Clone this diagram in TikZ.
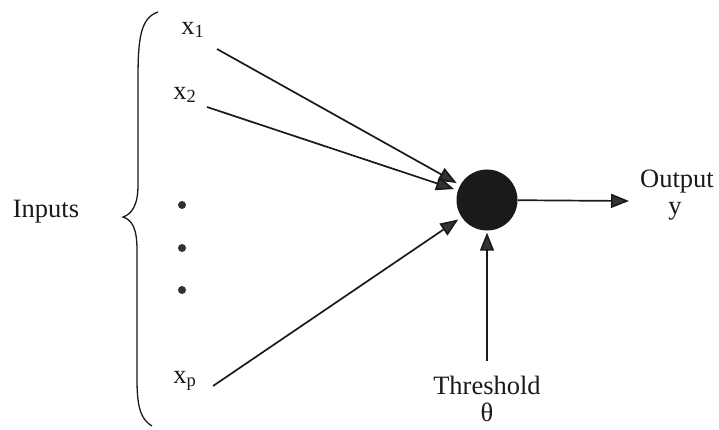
\documentclass[tikz,border=0pt]{standalone}
\usepackage{fontspec}
\setmainfont{Liberation Serif}
\usetikzlibrary{arrows.meta}
\definecolor{ink}{HTML}{1A1A1A}
\definecolor{tipgray}{HTML}{333333}
\tikzset{
  lbl/.style={font=\fontsize{26.5}{30}\selectfont, text=ink, inner sep=0pt},
  conn/.style={draw=ink, line width=1.7pt, -{Triangle[length=18pt,width=14pt,fill=tipgray]}, shorten >=4pt},
  dotn/.style={circle, fill=ink!90, minimum size=8pt, inner sep=0pt}
}
\begin{document}
\begin{tikzpicture}[x=1pt,y=-1pt]
\useasboundingbox (0,0) rectangle (719,430);
% neuron
\node[circle, fill=ink, minimum size=61pt, inner sep=0pt] (n) at (487,200) {};
% inputs
\node[lbl] (x1) at (193,30) {x\textsubscript{1}};
\node[lbl] (x2) at (185,95) {x\textsubscript{2}};
\node[lbl] (xp) at (185,381) {x\textsubscript{p}};
\coordinate (s1) at (217,49);
\coordinate (s2) at (207,107);
\coordinate (sp) at (213,386);
\node[dotn] (d1) at (182,205) {};
\node[dotn] (d2) at (182,248) {};
\node[dotn] (d3) at (182,290) {};
\node[lbl] (inp) at (46,212) {Inputs};
% brace
\draw[ink, line width=1.3pt] (158,12) .. controls (140,18) and (138,40) .. (138,80)
  -- (138,185) .. controls (138,205) and (132,214) .. (123,217)
  .. controls (132,220) and (137,228) .. (137,250)
  -- (137,380) .. controls (137,410) and (142,420) .. (152,426);
% output
\node[lbl] (out) at (677,182) {Output};
\node[lbl] (y) at (675,211) {y};
\coordinate (oe) at (629,201);
% threshold
\node[lbl] (th) at (487,385) {Threshold};
\node[lbl] (theta) at (487,412) {θ};
\coordinate (ts) at (487,361);
% connectors
\draw[conn] (s1) -- (n);
\draw[conn] (s2) -- (n);
\draw[conn] (sp) -- (n);
\draw[conn, shorten >=2pt] (ts) -- (n);
\draw[conn, shorten >=0pt] (n) -- (oe);
\end{tikzpicture}
\end{document}
